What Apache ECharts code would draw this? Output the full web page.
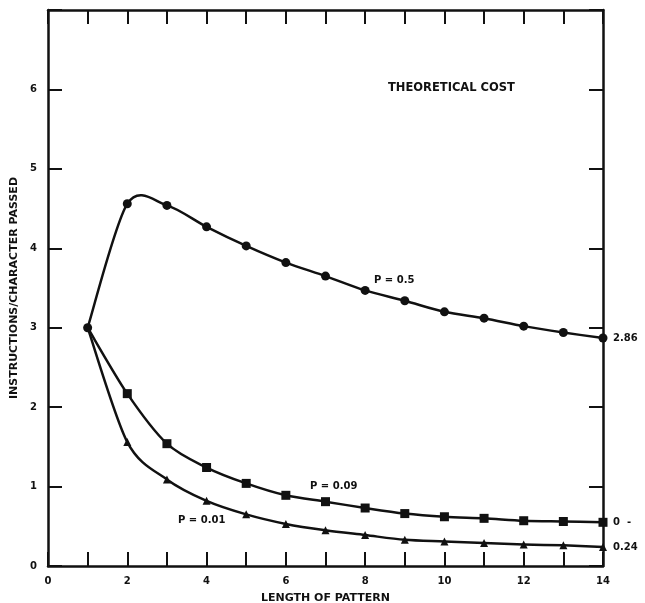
<!DOCTYPE html>
<html>
<head>
<meta charset="utf-8">
<script src="https://cdn.jsdelivr.net/npm/echarts@6/dist/echarts.min.js"></script>
<style>
html,body{margin:0;padding:0;background:#fff;}
#chart{width:645px;height:603px;}
</style>
</head>
<body>
<div id="chart"></div>
<script>
var lengths = [1,2,3,4,5,6,7,8,9,10,11,12,13,14];
var p050 = [3.00,4.56,4.54,4.27,4.03,3.82,3.65,3.47,3.34,3.20,3.12,3.02,2.94,2.87];
var p009 = [3.00,2.17,1.54,1.24,1.04,0.89,0.81,0.73,0.66,0.62,0.60,0.57,0.56,0.55];
var p001 = [3.00,1.56,1.09,0.82,0.65,0.53,0.45,0.39,0.33,0.31,0.29,0.27,0.26,0.24];
var seriesNames = ['P = 0.5','P = 0.09','P = 0.01'];
var endLabels = ['2.86','0  -','0.24'];
var xTickLabels = ['0','2','4','6','8','10','12','14'];
var yTickLabels = ['0','1','2','3','4','5','6'];
var chartTitle = 'THEORETICAL COST';
var xName = 'LENGTH OF PATTERN';
var yName = 'INSTRUCTIONS/CHARACTER PASSED';

var FONT = 'DejaVu Sans';
var INK = '#111';

function pairs(vals, hideFirst){
  return lengths.map(function(x,i){
    var item = {value:[x, vals[i]]};
    if (hideFirst && i === 0) item.symbol = 'none';
    return item;
  });
}

var chart = echarts.init(document.getElementById('chart'));
var axisLine = {show:true, onZero:false, lineStyle:{color:INK, width:2.5}};
var tickIn = {show:true, inside:true, length:14, lineStyle:{color:INK, width:2}};

// Smooth curve through the data points (Catmull-Rom), positioned via the axis scales
function curveSeries(vals){
  return {
    type:'custom', coordinateSystem:'cartesian2d', xAxisIndex:0, yAxisIndex:0,
    data:[[lengths[0], vals[0]]], silent:true, z:3,
    renderItem:function(params, api){
      var pts = lengths.map(function(x,i){ return api.coord([x, vals[i]]); });
      var k = 0.15, children = [];
      for (var i=0;i<pts.length-1;i++){
        var p0 = pts[i-1]||pts[i], p1 = pts[i], p2 = pts[i+1], p3 = pts[i+2]||pts[i+1];
        children.push({type:'bezierCurve', shape:{
          x1:p1[0], y1:p1[1], x2:p2[0], y2:p2[1],
          cpx1:p1[0]+(p2[0]-p0[0])*k, cpy1:p1[1]+(p2[1]-p0[1])*k,
          cpx2:p2[0]-(p3[0]-p1[0])*k, cpy2:p2[1]-(p3[1]-p1[1])*k
        }, style:{fill:null, stroke:INK, lineWidth:2.5}});
      }
      return {type:'group', children:children};
    }
  };
}

function markSeries(name, vals, symbol, size, endText, z, hideFirst){
  return {
    name:name, type:'line', data:pairs(vals, hideFirst),
    symbol:symbol, symbolSize:size, showAllSymbol:true,
    lineStyle:{color:INK, width:1, opacity:0},
    itemStyle:{color:INK},
    endLabel:{show:true, formatter:function(){return endText;}, color:INK,
      fontFamily:FONT, fontWeight:'bold', fontSize:10, distance:10},
    z:z
  };
}

chart.setOption({
  animation:false,
  backgroundColor:'#fff',
  grid:{left:48, right:42, top:10, bottom:37, containLabel:false, outerBoundsMode:'none'},
  xAxis:[{
    type:'value', min:0, max:14, interval:1, position:'bottom',
    name:xName, nameLocation:'middle', nameGap:27,
    nameTextStyle:{color:INK, fontFamily:FONT, fontWeight:'bold', fontSize:11},
    axisLine:axisLine, axisTick:tickIn, splitLine:{show:false},
    axisLabel:{color:INK, fontFamily:FONT, fontWeight:'bold', fontSize:10, margin:10,
      formatter:function(v){ var s=String(v); return xTickLabels.indexOf(s)>=0 ? s : ''; }}
  },{
    type:'value', min:0, max:14, interval:1, position:'top',
    axisLine:axisLine, axisTick:tickIn, splitLine:{show:false}, axisLabel:{show:false}
  }],
  yAxis:[{
    type:'value', min:0, max:7, interval:1, position:'left',
    name:yName, nameLocation:'middle', nameGap:22, nameRotate:90,
    nameTextStyle:{color:INK, fontFamily:FONT, fontWeight:'bold', fontSize:11},
    axisLine:axisLine, axisTick:tickIn, splitLine:{show:false},
    axisLabel:{color:INK, fontFamily:FONT, fontWeight:'bold', fontSize:10, margin:11,
      formatter:function(v){ var s=String(v); return yTickLabels.indexOf(s)>=0 ? s : ''; }}
  },{
    type:'value', min:0, max:7, interval:1, position:'right',
    axisLine:axisLine, axisTick:tickIn, splitLine:{show:false}, axisLabel:{show:false}
  }],
  graphic:[
    {type:'text', left:388, top:82, style:{text:chartTitle, fill:INK, font:'bold 11.5px "DejaVu Sans"'}},
    {type:'text', left:374, top:275, style:{text:seriesNames[0], fill:INK, font:'bold 10px "DejaVu Sans"'}},
    {type:'text', left:310, top:481, style:{text:seriesNames[1], fill:INK, font:'bold 10px "DejaVu Sans"'}},
    {type:'text', left:178, top:515, style:{text:seriesNames[2], fill:INK, font:'bold 10px "DejaVu Sans"'}}
  ],
  series:[
    curveSeries(p050), curveSeries(p009), curveSeries(p001),
    markSeries(seriesNames[1], p009, 'rect', 9, endLabels[1], 5, true),
    markSeries(seriesNames[2], p001, 'triangle', 8, endLabels[2], 5, true),
    markSeries(seriesNames[0], p050, 'circle', 9, endLabels[0], 6, false)
  ]
});
</script>
</body>
</html>
